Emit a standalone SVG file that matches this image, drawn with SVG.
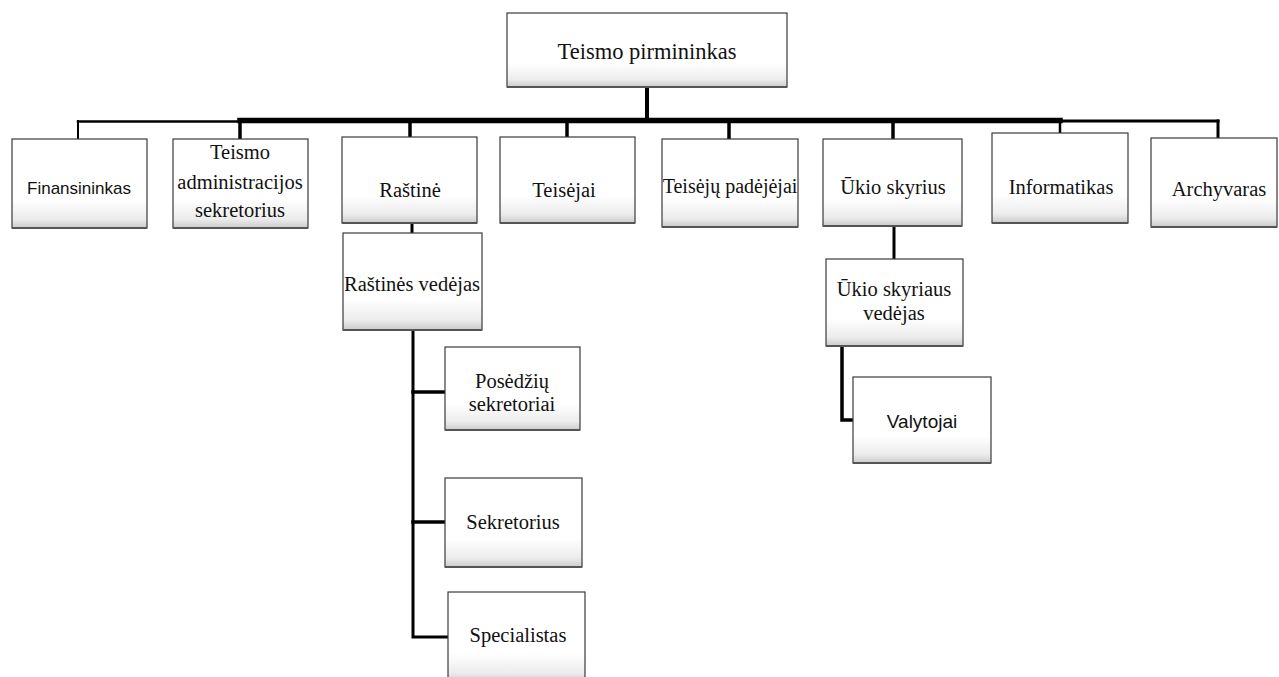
<svg xmlns="http://www.w3.org/2000/svg" width="1279" height="677" viewBox="0 0 1279 677">
<defs>
<linearGradient id="g" x1="0" y1="0" x2="0" y2="1">
<stop offset="0" stop-color="#ffffff"/>
<stop offset="0.68" stop-color="#ffffff"/>
<stop offset="0.9" stop-color="#ececec"/>
<stop offset="1" stop-color="#cbcbcb"/>
</linearGradient>
</defs>
<style>
.box{fill:url(#g);stroke:#3a3a3a;stroke-width:1.2}
.sh{fill:none;stroke:#555;stroke-width:2}
.t{font-family:"Liberation Serif","Times New Roman",serif;font-size:20.5px;fill:#111;text-anchor:middle}
.s{font-family:"Liberation Sans",Arial,sans-serif;font-size:17px;fill:#111;text-anchor:middle}
.c{fill:none;stroke:#000;stroke-linecap:square}
</style>
<g id="connectors">
<line class="c" x1="647" y1="87" x2="647" y2="118" stroke-width="4"/>
<line class="c" x1="78" y1="121.5" x2="240" y2="121.5" stroke-width="2.5"/>
<line class="c" x1="240" y1="120.5" x2="1060" y2="120.5" stroke-width="5.5"/>
<line class="c" x1="1060" y1="121" x2="1218" y2="121" stroke-width="3"/>
<line class="c" x1="78" y1="121" x2="78" y2="139" stroke-width="2"/>
<line class="c" x1="240" y1="121" x2="240" y2="139" stroke-width="3.5"/>
<line class="c" x1="410" y1="121" x2="410" y2="137" stroke-width="3.5"/>
<line class="c" x1="567" y1="121" x2="567" y2="137" stroke-width="3.5"/>
<line class="c" x1="729" y1="121" x2="729" y2="139" stroke-width="3.5"/>
<line class="c" x1="893" y1="121" x2="893" y2="139" stroke-width="3.5"/>
<line class="c" x1="1060" y1="121" x2="1060" y2="133" stroke-width="2.5"/>
<line class="c" x1="1218" y1="121" x2="1218" y2="138" stroke-width="3"/>
<line class="c" x1="412" y1="223" x2="412" y2="233" stroke-width="3"/>
<polyline class="c" points="413,330 413,637 448,637" stroke-width="3"/>
<line class="c" x1="413" y1="392" x2="445" y2="392" stroke-width="3.5"/>
<line class="c" x1="413" y1="522" x2="445" y2="522" stroke-width="3.5"/>
<line class="c" x1="894" y1="226" x2="894" y2="259" stroke-width="3"/>
<polyline class="c" points="842,346 842,420 853,420" stroke-width="3.5"/>
</g>
<g id="n-pirmininkas"><rect class="box" x="507" y="13" width="280" height="74"/><line class="sh" x1="507" y1="87" x2="787" y2="87"/><text class="t" x="647" y="59" style="font-size:22.5px">Teismo pirmininkas</text></g>
<g id="n-finansininkas"><rect class="box" x="12" y="139" width="135" height="89"/><line class="sh" x1="12" y1="228" x2="147" y2="228"/><text class="s" x="79" y="194">Finansininkas</text></g>
<g id="n-admin"><rect class="box" x="173" y="139" width="135" height="89"/><line class="sh" x1="173" y1="228" x2="308" y2="228"/><text class="t" x="240" y="159">Teismo</text><text class="t" x="240" y="189">administracijos</text><text class="t" x="240" y="217">sekretorius</text></g>
<g id="n-rastine"><rect class="box" x="342" y="137" width="135" height="86"/><line class="sh" x1="342" y1="223" x2="477" y2="223"/><text class="t" x="410" y="197">Raštinė</text></g>
<g id="n-teisejai"><rect class="box" x="500" y="137" width="135" height="86"/><line class="sh" x1="500" y1="223" x2="635" y2="223"/><text class="t" x="564" y="197">Teisėjai</text></g>
<g id="n-padejejai"><rect class="box" x="662" y="139" width="136" height="88"/><line class="sh" x1="662" y1="227" x2="798" y2="227"/><text class="t" x="730" y="193" style="font-size:20px">Teisėjų padėjėjai</text></g>
<g id="n-ukio"><rect class="box" x="823" y="139" width="139" height="87"/><line class="sh" x1="823" y1="226" x2="962" y2="226"/><text class="t" x="893" y="194">Ūkio skyrius</text></g>
<g id="n-informatikas"><rect class="box" x="992" y="133" width="136" height="90"/><line class="sh" x1="992" y1="223" x2="1128" y2="223"/><text class="t" x="1061" y="194">Informatikas</text></g>
<g id="n-archyvaras"><rect class="box" x="1151" y="138" width="126" height="89"/><line class="sh" x1="1151" y1="227" x2="1277" y2="227"/><text class="t" x="1219" y="196">Archyvaras</text></g>
<g id="n-rastines-vedejas"><rect class="box" x="343" y="233" width="139" height="97"/><line class="sh" x1="343" y1="330" x2="482" y2="330"/><text class="t" x="412" y="291">Raštinės vedėjas</text></g>
<g id="n-posedziu"><rect class="box" x="445" y="347" width="135" height="83"/><line class="sh" x1="445" y1="430" x2="580" y2="430"/><text class="t" x="512" y="388">Posėdžių</text><text class="t" x="512" y="411">sekretoriai</text></g>
<g id="n-sekretorius"><rect class="box" x="445" y="478" width="137" height="89"/><line class="sh" x1="445" y1="567" x2="582" y2="567"/><text class="t" x="513" y="529">Sekretorius</text></g>
<g id="n-specialistas"><rect class="box" x="448" y="592" width="137" height="90"/><text class="t" x="518" y="642">Specialistas</text></g>
<g id="n-ukio-vedejas"><rect class="box" x="826" y="259" width="137" height="87"/><line class="sh" x1="826" y1="346" x2="963" y2="346"/><text class="t" x="894" y="296">Ūkio skyriaus</text><text class="t" x="894" y="320">vedėjas</text></g>
<g id="n-valytojai"><rect class="box" x="853" y="377" width="138" height="86"/><line class="sh" x1="853" y1="463" x2="991" y2="463"/><text class="s" x="922" y="428" style="font-size:19px">Valytojai</text></g>
</svg>
